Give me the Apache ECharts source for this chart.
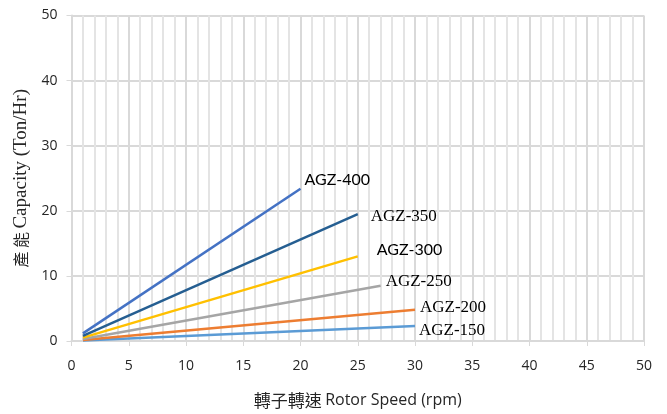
<!DOCTYPE html>
<html>
<head>
<meta charset="utf-8">
<script src="https://cdn.jsdelivr.net/npm/echarts@6/dist/echarts.min.js"></script>
<style>html,body{margin:0;padding:0;background:#fff;}#c{width:667px;height:414px;}</style>
</head>
<body>
<div id="c"></div>
<script>
// Data
var seriesNames = ['AGZ-400', 'AGZ-350', 'AGZ-300', 'AGZ-250', 'AGZ-200', 'AGZ-150'];
var speeds400 = [1, 20];
var cap400 = [1.17, 23.4];
var speeds350 = [1, 25];
var cap350 = [0.78, 19.5];
var speeds300 = [1, 25];
var cap300 = [0.52, 13.0];
var speeds250 = [1, 27];
var cap250 = [0.31, 8.5];
var speeds200 = [1, 30];
var cap200 = [0.16, 4.8];
var speeds150 = [1, 30];
var cap150 = [0.08, 2.3];
var xTicks = [0, 5, 10, 15, 20, 25, 30, 35, 40, 45, 50];
var yTicks = [0, 10, 20, 30, 40, 50];

function pairs(xs, ys) { return xs.map(function (x, i) { return [x, ys[i]]; }); }

var colors = ['#4472C4', '#255E91', '#FFC000', '#A5A5A5', '#ED7D31', '#5B9BD5'];
var dataSets = [pairs(speeds400, cap400), pairs(speeds350, cap350), pairs(speeds300, cap300),
                pairs(speeds250, cap250), pairs(speeds200, cap200), pairs(speeds150, cap150)];
var labelOffsets = [[4, -9], [13, 2], [19, -7], [5, -4], [5, -2], [4, 5]];
var labelFonts = ['Lato', 'Liberation Serif', 'Lato', 'Liberation Serif', 'Liberation Serif', 'Liberation Serif'];
var labelSizes = [16, 17, 16, 17, 17, 17];

var chart = echarts.init(document.getElementById('c'));
chart.setOption({
  animation: false,
  backgroundColor: '#fff',
  grid: { left: 71.5, right: 23, top: 15.5, bottom: 69, containLabel: false },
  xAxis: {
    type: 'value', min: 0, max: 50, interval: 5,
    name: '{cn|轉子轉速} {en|Rotor Speed (rpm)}',
    nameLocation: 'middle', nameGap: 51,
    nameTextStyle: {
      rich: {
        cn: { fontFamily: 'Noto Sans CJK TC', fontSize: 17, color: '#262626' },
        en: { fontFamily: 'Open Sans', fontSize: 16, color: '#262626' }
      }
    },
    axisLine: { show: true, lineStyle: { color: '#d9d9d9', width: 2 } },
    axisTick: { show: true, length: 5, lineStyle: { color: '#d9d9d9', width: 1 } },
    minorTick: { show: false, splitNumber: 5 },
    axisLabel: {
      margin: 18, fontFamily: 'Open Sans', fontSize: 14, color: '#262626',
      formatter: function (v) { return xTicks.indexOf(v) >= 0 ? String(v) : ''; }
    },
    splitLine: { show: true, lineStyle: { color: '#d9d9d9', width: 2 } },
    minorSplitLine: { show: true, lineStyle: { color: '#e4e4e4', width: 2 } }
  },
  yAxis: {
    type: 'value', min: 0, max: 50, interval: 10,
    name: '{cn|產 能} {en|Capacity (Ton/Hr)}',
    nameLocation: 'middle', nameGap: 40, nameRotate: 90,
    nameTextStyle: {
      rich: {
        cn: { fontFamily: 'Noto Sans CJK TC', fontSize: 16, color: '#262626' },
        en: { fontFamily: 'Liberation Serif', fontSize: 19, color: '#262626' }
      }
    },
    axisLine: { show: true, lineStyle: { color: '#d9d9d9', width: 2 } },
    axisTick: { show: true, length: 5, lineStyle: { color: '#d9d9d9', width: 1 } },
    axisLabel: {
      margin: 14, fontFamily: 'Open Sans', fontSize: 14, color: '#262626',
      formatter: function (v) { return yTicks.indexOf(v) >= 0 ? String(v) : ''; }
    },
    splitLine: { show: true, lineStyle: { color: '#d9d9d9', width: 2 } }
  },
  series: seriesNames.map(function (n, i) {
    return {
      name: n, type: 'line', data: dataSets[i], symbol: 'none',
      lineStyle: { color: colors[i], width: 2.5 },
      itemStyle: { color: colors[i] },
      z: 10 - i,
      endLabel: {
        show: true, formatter: n, distance: 0, offset: labelOffsets[i],
        fontFamily: labelFonts[i], fontSize: labelSizes[i], color: '#000'
      }
    };
  })
});
</script>
</body>
</html>
